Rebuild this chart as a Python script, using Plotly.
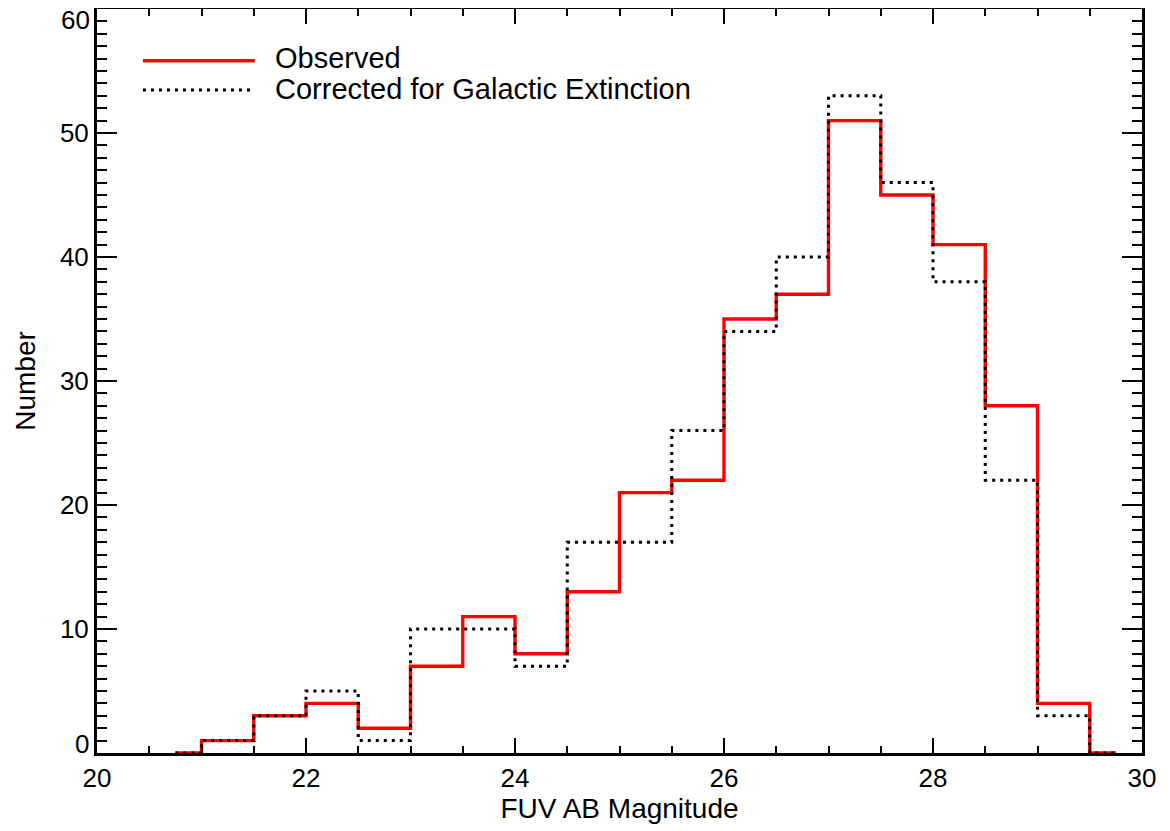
import plotly.graph_objects as go

# Bin centres (FUV AB magnitude), 0.5 mag bins
bin_centers = [20.75, 21.25, 21.75, 22.25, 22.75, 23.25, 23.75, 24.25, 24.75, 25.25,
               25.75, 26.25, 26.75, 27.25, 27.75, 28.25, 28.75, 29.25, 29.75]
observed = [0, 1, 3, 4, 2, 7, 11, 8, 13, 21, 22, 35, 37, 51, 45, 41, 28, 4, 0]
corrected = [0, 1, 3, 5, 1, 10, 10, 7, 17, 17, 26, 34, 40, 53, 46, 38, 22, 3, 0]

x_ticks = [20, 22, 24, 26, 28, 30]
y_ticks = [0, 10, 20, 30, 40, 50, 60]
y_labels = ["", "10", "20", "30", "40", "50", ""]

FONT = "Liberation Sans, Arial, Helvetica, sans-serif"
TICK_SIZE = 26
TEXT_SIZE = 28

fig = go.Figure()
fig.add_trace(go.Scatter(x=bin_centers, y=observed, mode="lines", line_shape="hvh",
                         line=dict(color="#ff0000", width=3.4), name="Observed",
                         showlegend=False, cliponaxis=False))
fig.add_trace(go.Scatter(x=bin_centers, y=corrected, mode="lines", line_shape="hvh",
                         line=dict(color="black", width=3, dash="3px,5px"),
                         name="Corrected for Galactic Extinction", showlegend=False,
                         cliponaxis=False))

axis_common = dict(showline=True, linecolor="black", linewidth=3, mirror="ticks",
                   ticks="inside", tickcolor="black", tickwidth=2, showgrid=False,
                   zeroline=False, automargin=False,
                   tickfont=dict(family=FONT, size=TICK_SIZE, color="black"),
                   title_font=dict(family=FONT, size=TEXT_SIZE, color="black"))

fig.update_xaxes(range=[20, 30], tickvals=x_ticks, ticklen=15, ticklabelstandoff=0,
                 minor=dict(dtick=0.5, ticks="inside", ticklen=7, tickcolor="black", tickwidth=2),
                 title_text="FUV AB Magnitude", title_standoff=7, **axis_common)
fig.update_yaxes(range=[0, 60], tickvals=y_ticks, ticktext=y_labels, ticklen=20,
                 ticklabelstandoff=0,
                 minor=dict(dtick=1, ticks="inside", ticklen=10, tickcolor="black", tickwidth=2),
                 title_text="Number", title_standoff=17, **axis_common)

# end labels drawn shifted inward, as in the original
fig.add_annotation(x=0, xref="paper", xanchor="right", xshift=-6, y=0, yref="y", yshift=9,
                   text="0", showarrow=False, font=dict(family=FONT, size=TICK_SIZE, color="black"))
fig.add_annotation(x=0, xref="paper", xanchor="right", xshift=-6, y=60, yref="y", yshift=-11,
                   text="60", showarrow=False, borderpad=0,
                   font=dict(family=FONT, size=TICK_SIZE, color="black"))

# Manual legend
fig.add_shape(type="line", xref="paper", yref="paper", x0=0.044, x1=0.151, y0=0.9305, y1=0.9305,
              line=dict(color="#ff0000", width=3.4))
fig.add_shape(type="line", xref="paper", yref="paper", x0=0.044, x1=0.151, y0=0.891, y1=0.891,
              line=dict(color="black", width=3, dash="3px,5px"))
fig.add_annotation(x=0.168, y=0.9335, xref="paper", yref="paper", xanchor="left", yanchor="middle",
                   text="Observed", showarrow=False, font=dict(family=FONT, size=29, color="black"))
fig.add_annotation(x=0.168, y=0.892, xref="paper", yref="paper", xanchor="left", yanchor="middle",
                   text="Corrected for Galactic Extinction", showarrow=False,
                   font=dict(family=FONT, size=29, color="black"))

# page body has an 8px margin: shrink the figure so it fits the 1170x831 window
fig.update_layout(width=1162, height=823, margin=dict(l=89, r=28, t=1, b=78),
                  plot_bgcolor="white", paper_bgcolor="white", showlegend=False)

fig.write_html("out.html")
